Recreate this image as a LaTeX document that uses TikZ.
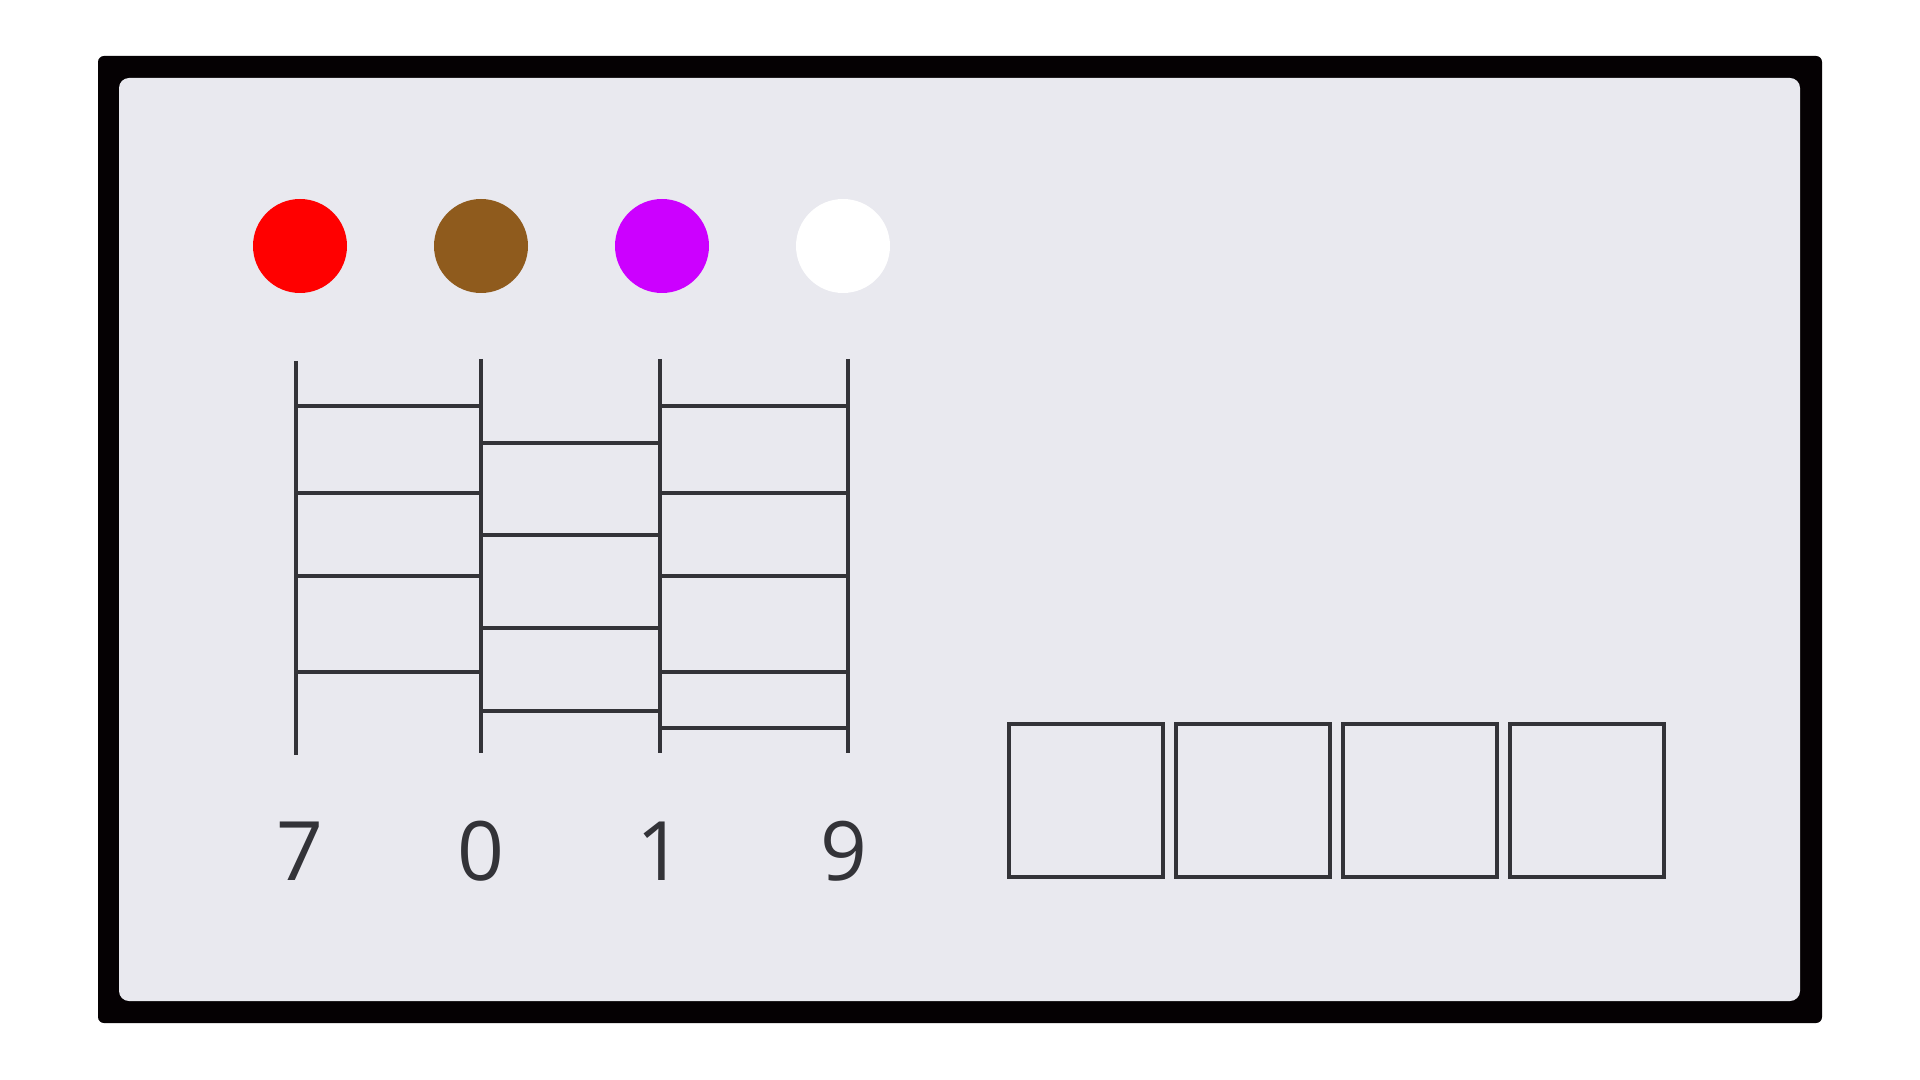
\documentclass[tikz,border=0pt]{standalone}
\usepackage{fontspec}
\setmainfont{Open Sans}
\definecolor{ink}{HTML}{333338}
\definecolor{framecol}{HTML}{050103}
\definecolor{panel}{HTML}{E9E9EF}
\definecolor{brownc}{HTML}{8F5B1D}
\definecolor{purplec}{HTML}{CC00FF}
\tikzset{
  dot/.style={circle, minimum size=47pt, inner sep=0pt, draw=none},
  rung/.style={draw=ink, line width=1.9pt},
  slot/.style={rectangle, draw=ink, line width=2pt, minimum width=77pt, minimum height=76.5pt, inner sep=0pt},
  digit/.style={text=ink, anchor=base, inner sep=0pt, font=\fontsize{41}{41}\selectfont}
}
\begin{document}
\begin{tikzpicture}[x=0.5pt,y=-0.5pt]
\useasboundingbox (0,0) rectangle (1920,1080);
\fill[white] (0,0) rectangle (1920,1080);
\fill[framecol, rounded corners=3pt] (98,56) rectangle (1822,1023);
\fill[panel, rounded corners=5pt] (119,78) rectangle (1800,1001);

% circles
\node[dot, fill=red] (c1) at (300,246) {};
\node[dot, fill=brownc] (c2) at (481,246) {};
\node[dot, fill=purplec] (c3) at (662,246) {};
\node[dot, fill=white] (c4) at (843,246) {};

% ladder verticals
\coordinate (v1t) at (296,361); \coordinate (v1b) at (296,755);
\coordinate (v2t) at (481,359); \coordinate (v2b) at (481,753);
\coordinate (v3t) at (660,359); \coordinate (v3b) at (660,753);
\coordinate (v4t) at (848,359); \coordinate (v4b) at (848,753);
\draw[rung] (v1t) -- (v1b);
\draw[rung] (v2t) -- (v2b);
\draw[rung] (v3t) -- (v3b);
\draw[rung] (v4t) -- (v4b);

% rungs
\foreach \y in {406,493,576,672} \draw[rung] (296,\y) -- (481,\y);
\foreach \y in {443,535,628,711} \draw[rung] (481,\y) -- (660,\y);
\foreach \y in {406,493,576,672,728} \draw[rung] (660,\y) -- (848,\y);

% digits
\node[digit] (d1) at (300,880) {7};
\node[digit] (d2) at (481,880) {0};
\node[digit] (d3) at (660,880) {1};
\node[digit] (d4) at (844,880) {9};

% boxes
\node[slot] (b1) at (1086,800.5) {};
\node[slot] (b2) at (1253,800.5) {};
\node[slot] (b3) at (1420,800.5) {};
\node[slot] (b4) at (1587,800.5) {};
\end{tikzpicture}
\end{document}
